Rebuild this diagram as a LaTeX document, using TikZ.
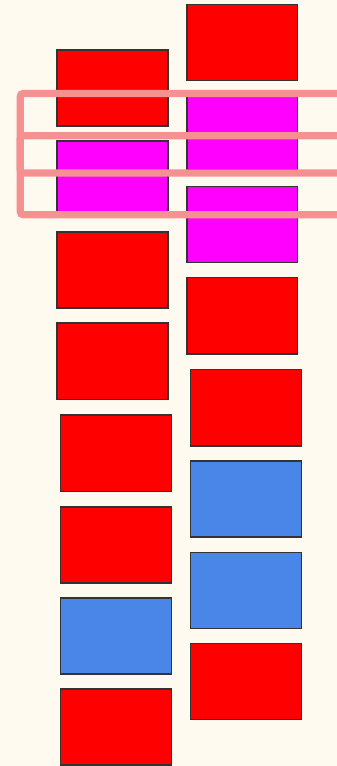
\documentclass[tikz,border=0pt]{standalone}
\usepackage{xcolor}
\usepackage{tikz}

\definecolor{cream}{HTML}{FFFAF0}
\definecolor{edge}{HTML}{333333}
\definecolor{cellred}{HTML}{FF0000}
\definecolor{cellpink}{HTML}{FF00FF}
\definecolor{cellblue}{HTML}{4A86E8}
\definecolor{bandpink}{RGB}{245,145,145}

\begin{document}
\begin{tikzpicture}[x=1pt,y=-1pt,
		cell/.style={draw=edge,line width=1.5pt},
		redcell/.style={cell,fill=cellred},
		pinkcell/.style={cell,fill=cellpink},
		bluecell/.style={cell,fill=cellblue},
		band/.style={draw=bandpink,line width=7.3pt,rounded corners=3pt}]
				\fill[cream] (0,0) rectangle (337,766);
				\useasboundingbox (0,0) rectangle (337,766);
				% left column
				\draw[redcell] (57,50) rectangle (168,126);
				\draw[pinkcell] (57,141) rectangle (168,217);
				\draw[redcell] (57,232) rectangle (168,308);
				\draw[redcell] (57,323) rectangle (168,399.5);
				\draw[redcell] (60.5,415) rectangle (171.5,491.5);
				\draw[redcell] (60.5,507) rectangle (171.5,583);
				\draw[bluecell] (60.5,598) rectangle (171.5,674);
				\draw[redcell] (60.5,689) rectangle (171.5,765);
				% right column
				\draw[redcell] (187,4.3) rectangle (297.3,80.3);
				\draw[pinkcell] (187,95.6) rectangle (297.3,169.5);
				\draw[pinkcell] (187,186.7) rectangle (297.3,262.7);
				\draw[redcell] (187,277.7) rectangle (297.3,354);
				\draw[redcell] (190.5,369.7) rectangle (301.3,446);
				\draw[bluecell] (190.5,461) rectangle (301.3,537);
				\draw[bluecell] (190.5,552.3) rectangle (301.3,628.3);
				\draw[redcell] (190.5,643.3) rectangle (301.3,719.7);
				% highlight bands
				\begin{scope}
					\clip (0,0) rectangle (337,766);
					\draw[band] (20.3,93.5) rectangle (360,173);
					\draw[band] (20.3,135.7) rectangle (360,214.7);
				\end{scope}
			\end{tikzpicture}
\end{document}
